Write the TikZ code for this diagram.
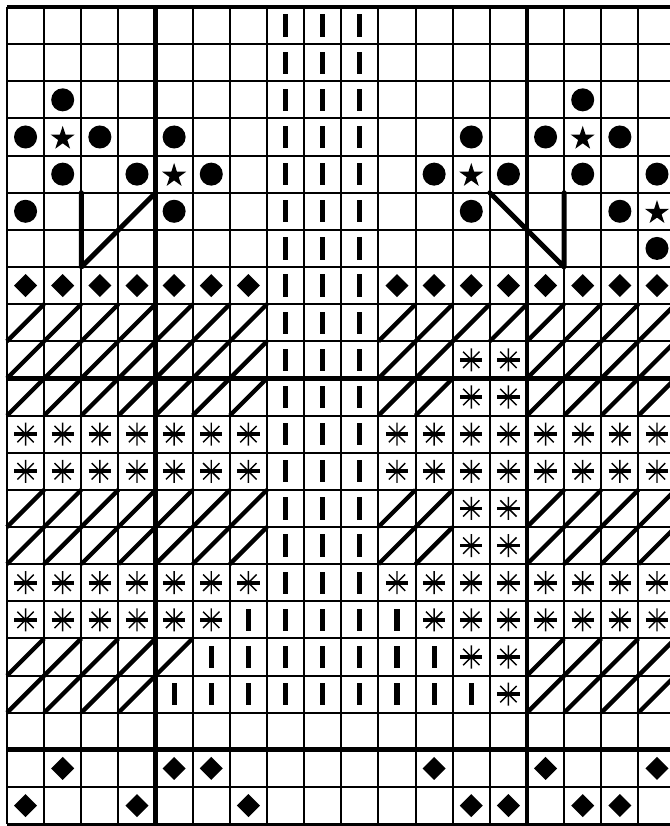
\documentclass[tikz,border=0pt]{standalone}
\begin{document}
\begin{tikzpicture}[x=1cm,y=-1cm,
  thingrid/.style={line width=1.5pt},
  thickgrid/.style={line width=3.8pt},
  halfst/.style={line width=3.3pt},
  backst/.style={line width=3.8pt, line cap=round, line join=round},
  dotsym/.pic={\fill (0,0) circle (0.31cm);},
  diasym/.pic={\fill (0.31cm,0) -- (0,0.31cm) -- (-0.31cm,0) -- (0,-0.31cm) -- cycle;},
  barsym/.pic={\fill (-0.07cm,-0.3cm) rectangle (0.07cm,0.3cm);},
  starsym/.pic={\fill[yshift=-0.04cm] (90:0.34cm) -- (126:0.13cm) -- (162:0.34cm) -- (198:0.13cm) -- (234:0.34cm) -- (270:0.13cm) -- (306:0.34cm) -- (342:0.13cm) -- (18:0.34cm) -- (54:0.13cm) -- cycle;},
  astsym/.pic={\draw[line width=1.1pt] (0,-0.31cm) -- (0,0.31cm) (-0.22cm,-0.22cm) -- (0.22cm,0.22cm) (-0.22cm,0.22cm) -- (0.22cm,-0.22cm);
               \draw[line width=2.8pt] (-0.3cm,0) -- (0.3cm,0);}
]
\useasboundingbox (-0.188,-0.188) rectangle (17.85,22.05);
\clip (-0.188,-0.188) rectangle (17.85,22.05);
\fill[white] (-0.188,-0.188) rectangle (17.85,22.05);
% grid
\foreach \c in {0,...,18} \draw[thingrid] (\c,0) -- (\c,22);
\foreach \r in {0,...,21} \draw[thingrid] (0,\r) -- (18,\r);
\draw[line width=2.2pt] (0,22) -- (18,22);
% half stitches
\foreach \r in {8,9,10,13,14} \foreach \c in {0,...,6,10,11,14,15,16,17} \draw[halfst] (\c,\r+1) -- (\c+1,\r);
\foreach \c in {12,13} \draw[halfst] (\c,9) -- (\c+1,8);
\foreach \c in {0,...,4,14,15,16,17} \draw[halfst] (\c,18) -- (\c+1,17);
\foreach \c in {0,...,3,14,15,16,17} \draw[halfst] (\c,19) -- (\c+1,18);
% thick grid
\draw[thickgrid] (4,0) -- (4,22) (14,0) -- (14,22) (0,0) -- (18,0) (0,10) -- (18,10) (0,20) -- (18,20);
% asterisks
\foreach \r in {11,12,15} \foreach \c in {0,...,6,10,11,...,17} \pic at (\c+0.5,\r+0.5) {astsym};
\foreach \c in {0,...,5,11,12,...,17} \pic at (\c+0.5,16.5) {astsym};
\foreach \r in {9,10,13,14,17} \foreach \c in {12,13} \pic at (\c+0.5,\r+0.5) {astsym};
\pic at (13.5,18.5) {astsym};
% bars
\foreach \r in {0,...,18} \foreach \c in {7,8,9} \pic at (\c+0.5,\r+0.5) {barsym};
\foreach \c/\r in {6/16,10/16,5/17,6/17,10/17,11/17,4/18,5/18,6/18,10/18,11/18,12/18} \pic at (\c+0.5,\r+0.5) {barsym};
% diamonds
\foreach \c in {0,...,6,10,11,...,17} \pic at (\c+0.5,7.5) {diasym};
\foreach \c in {1,4,5,11,14,17} \pic at (\c+0.5,20.5) {diasym};
\foreach \c in {0,3,6,12,13,15,16} \pic at (\c+0.5,21.5) {diasym};
% dots
\foreach \c/\r in {1/2,15/2,0/3,2/3,4/3,12/3,14/3,16/3,1/4,3/4,5/4,11/4,13/4,15/4,17/4,0/5,4/5,12/5,16/5,17/6} \pic at (\c+0.5,\r+0.5) {dotsym};
% stars
\foreach \c/\r in {1/3,15/3,4/4,12/4,17/5} \pic at (\c+0.5,\r+0.5) {starsym};
% back stitches
\coordinate (bA) at (2,5);
\coordinate (bB) at (2,7);
\coordinate (bC) at (4,5);
\coordinate (bD) at (13,5);
\coordinate (bE) at (15,7);
\coordinate (bF) at (15,5);
\draw[backst] (bA) -- (bB) -- (bC);
\draw[backst] (bD) -- (bE) -- (bF);
\end{tikzpicture}
\end{document}
